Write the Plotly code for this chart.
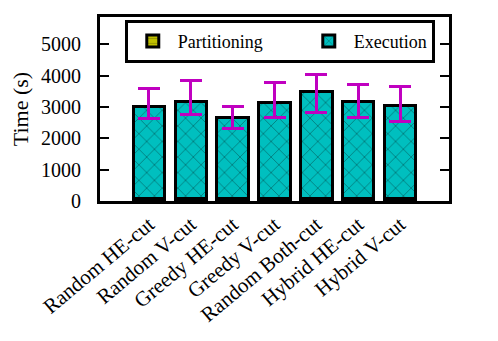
import plotly.graph_objects as go

labels = ["Random HE-cut", "Random V-cut", "Greedy HE-cut", "Greedy V-cut",
          "Random Both-cut", "Hybrid HE-cut", "Hybrid V-cut"]
partitioning = [80, 80, 90, 80, 80, 80, 80]
partitioning_err = [270, 270, 270, 270, 270, 270, 270]
total = [3030, 3190, 2660, 3150, 3490, 3170, 3060]
err_high = [3575, 3830, 3010, 3776, 4020, 3702, 3650]
err_low = [2617, 2767, 2320, 2670, 2830, 2670, 2530]

execution = [t - p for t, p in zip(total, partitioning)]
err_plus = [h - t for h, t in zip(err_high, total)]
err_minus = [t - l for t, l in zip(total, err_low)]

font = "Liberation Serif"

fig = go.Figure()
fig.add_trace(go.Bar(
    x=labels, y=partitioning, name="Partitioning" + "\u00a0" * 8,
    marker=dict(color="#bfbf00", line=dict(color="black", width=3),
                pattern=dict(shape="-", fgcolor="#555500", size=6, solidity=0.15)),
    error_y=dict(type="data", array=partitioning_err, color="black", thickness=2, width=0),
    width=0.75,
))
fig.add_trace(go.Bar(
    x=labels, y=execution, name="Execution",
    marker=dict(color="#00bfbf", line=dict(color="black", width=3),
                pattern=dict(shape="x", fgcolor="#042e2e", bgcolor="#00bfbf", size=11, solidity=0.14)),
    error_y=dict(type="data", symmetric=False, array=err_plus, arrayminus=err_minus,
                 color="#c000c0", thickness=3, width=11),
    width=0.75,
))

# page body has an 8px margin, so the figure is made 8px smaller and shifted
fig.update_layout(
    width=490, height=333,
    margin=dict(l=92, r=49, t=9, b=140),
    barmode="stack",
    plot_bgcolor="white", paper_bgcolor="white",
    font=dict(family=font, size=21, color="black"),
    showlegend=True,
    legend=dict(orientation="h", x=0.071, y=0.985, xanchor="left", yanchor="top",
                bordercolor="black", borderwidth=3, bgcolor="white", traceorder="normal",
                font=dict(family=font, size=18, color="black"), itemwidth=40),
)
fig.update_xaxes(
    range=[-1.17, 7.17], tickangle=-40, showline=True, linecolor="black", linewidth=3,
    mirror=True, ticks="", showgrid=False, tickfont=dict(family=font, size=21),
    automargin=False, ticklabelstandoff=0,
)
fig.update_yaxes(
    range=[0, 5870], tickvals=[0, 1000, 2000, 3000, 4000, 5000],
    showline=True, linecolor="black", linewidth=3, mirror="ticks",
    ticks="inside", ticklen=9, tickwidth=2, tickcolor="black", showgrid=False,
    zeroline=False, tickfont=dict(family=font, size=20), automargin=False,
    ticklabelstandoff=12,
    title=dict(text="Time (s)", font=dict(family=font, size=22), standoff=12),
)

fig.write_html("out.html")
